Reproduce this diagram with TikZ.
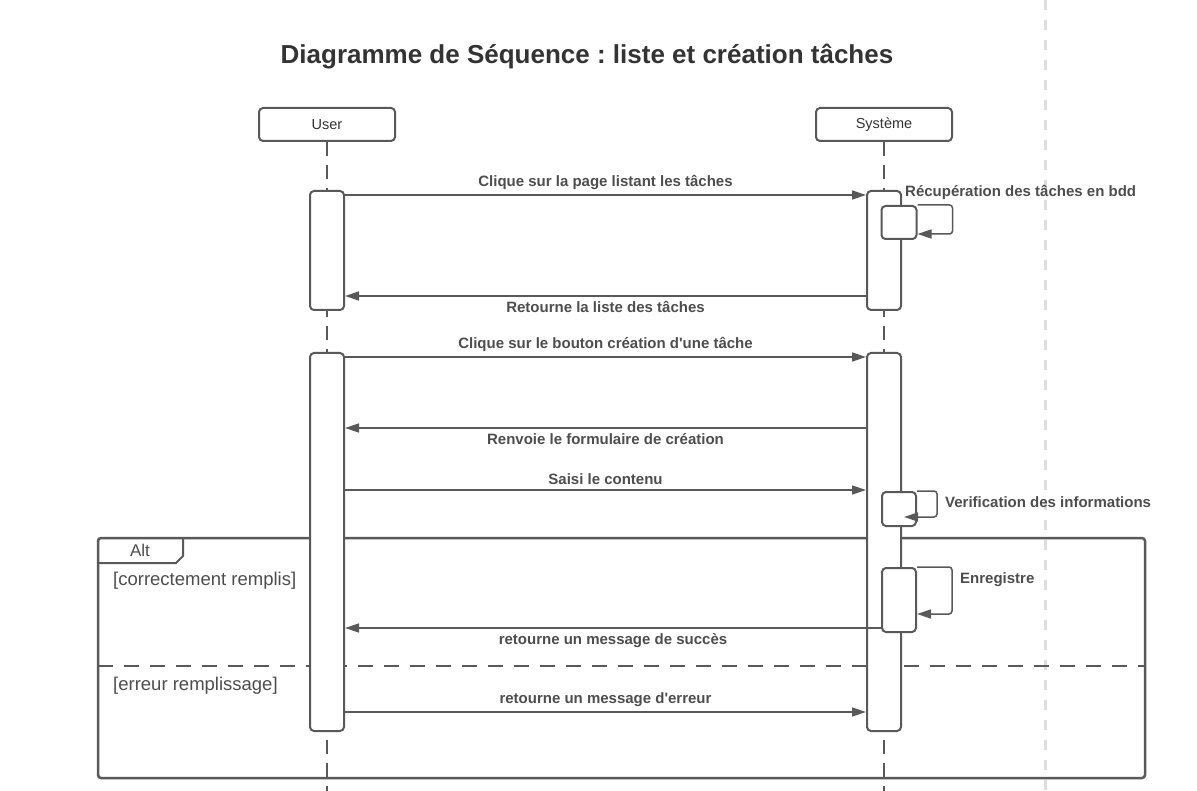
\documentclass[tikz,border=0pt]{standalone}
\usepackage{fontspec}
\setmainfont{Liberation Sans}
\usetikzlibrary{arrows.meta}
\definecolor{linegray}{HTML}{595959}
\definecolor{textgray}{HTML}{4D4D4D}
\definecolor{pagegray}{HTML}{DDDDDD}
\frenchspacing
\begin{document}
\begin{tikzpicture}[x=1pt,y=-1pt,
    head/.style={draw=linegray,line width=2pt,rounded corners=4pt,fill=white,minimum width=136pt,minimum height=33pt,inner sep=0pt,font=\fontsize{14.5}{16}\selectfont,text=black!80},
    act/.style={draw=linegray,line width=2pt,rounded corners=4pt,fill=white,minimum width=34pt,inner sep=0pt},
    msg/.style={draw=linegray,line width=1.5pt,-{Triangle[length=14pt,width=9pt]}},
    loop/.style={msg,rounded corners=3pt},
    lbl/.style={text=textgray,font=\fontsize{15}{17}\selectfont\bfseries,inner sep=2pt},
    guard/.style={text=textgray,font=\fontsize{18.5}{20}\selectfont,anchor=west,inner sep=0pt},
    life/.style={linegray,line width=2pt,dash pattern=on 14pt off 9pt}]
    \useasboundingbox (0,0) rectangle (1197,791);
    %page break line
    \draw[pagegray,line width=3pt,dash pattern=on 10pt off 10pt] (1045,0) -- (1045,791);
    \node[font=\fontsize{26}{30}\selectfont\bfseries,text=black!80] (title) at (587,57) {Diagramme de Séquence : liste et création tâches};
    %draw lifelines
    \node[head] (user) at (327,124.5) {User};
    \node[head] (sys) at (884,124.5) {Système};
    \coordinate (bottom) at (0,791);
    \foreach \who in {user,sys}
        {%
            \draw[life] (\who.south) -- (\who.south |- bottom);
        }
    %draw alt frame
    \draw[linegray,line width=2.5pt,rounded corners=3pt] (98,538) rectangle (1145,778);
    \draw[linegray,line width=2pt] (98,563) -- (176,563) -- (183,556) -- (183,538);
    \node[text=textgray,font=\fontsize{17}{19}\selectfont] (alt) at (140,550) {Alt};
    \node[guard] (ok) at (113,581) {[correctement remplis]};
    \draw[linegray,line width=2pt,dash pattern=on 15pt off 11pt] (98,666) -- (1145,666);
    \node[guard] (err) at (113,686) {[erreur remplissage]};
    %draw activations
    \node[act,minimum height=119pt] (ua1) at (327,250.5) {};
    \node[act,minimum height=378pt] (ua2) at (327,542) {};
    \node[act,minimum height=119pt] (sa1) at (884,250.5) {};
    \node[act,minimum height=378pt] (sa2) at (884,542) {};
    %message heights
    \coordinate (y1) at (0,195);
    \coordinate (y2) at (0,296);
    \coordinate (y3) at (0,357);
    \coordinate (y4) at (0,428);
    \coordinate (y5) at (0,490);
    \coordinate (y6) at (0,628);
    \coordinate (y7) at (0,712);
    %draw messages
    \draw[msg] (ua1.east |- y1) -- (sa1.west |- y1) node[lbl,midway,above=3pt] {Clique sur la page listant les tâches};
    \draw[msg] (sa1.west |- y2) -- (ua1.east |- y2) node[lbl,midway,below=3pt] {Retourne la liste des tâches};
    \draw[msg] (ua2.east |- y3) -- (sa2.west |- y3) node[lbl,midway,above=3pt] {Clique sur le bouton création d\textquotesingle une tâche};
    \draw[msg] (sa2.west |- y4) -- (ua2.east |- y4) node[lbl,midway,below=3pt] {Renvoie le formulaire de création};
    \draw[msg] (ua2.east |- y5) -- (sa2.west |- y5) node[lbl,midway,above=3pt] {Saisi le contenu};
    \draw[msg] (ua2.east |- y7) -- (sa2.west |- y7) node[lbl,midway,above=3pt] {retourne un message d\textquotesingle erreur};
    %draw self calls
    \node[act,minimum width=35pt,minimum height=33pt] (sn1) at (899,222.5) {};
    \draw[loop] (sn1.north east) -- ++(35,0) |- ([yshift=-11.5pt]sn1.east);
    \node[lbl,anchor=west] (get) at (903,192) {Récupération des tâches en bdd};
    \node[act,minimum width=34pt,minimum height=34pt] (sn2) at (899,509) {};
    \draw[loop] (sn2.north east) -- ++(20,0) |- ([xshift=-13pt,yshift=-8pt]sn2.east);
    \node[lbl,anchor=west] (check) at (943,502) {Verification des informations};
    \node[act,minimum width=34pt,minimum height=64pt] (sn3) at (899,600) {};
    \draw[loop] (sn3.north east) -- ++(35,0) |- ([yshift=-14pt]sn3.east);
    \node[lbl,anchor=west] (save) at (958,580) {Enregistre};
    \draw[msg] (sn3.west |- y6) -- (ua2.east |- y6) node[lbl,midway,below=3pt] {retourne un message de succès};
\end{tikzpicture}
\end{document}
